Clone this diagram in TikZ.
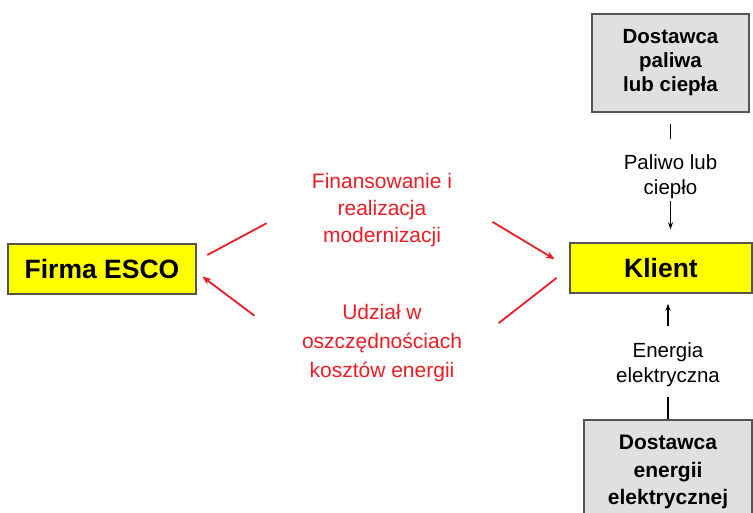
\documentclass[tikz,border=0pt]{standalone}
\usepackage{fontspec}
\setmainfont{Liberation Sans}
\usetikzlibrary{positioning, arrows.meta}
\definecolor{boxyellow}{RGB}{255,255,0}
\definecolor{boxgray}{RGB}{224,224,227}
\definecolor{flowred}{RGB}{236,28,36}
\definecolor{edgegray}{RGB}{85,85,80}

\begin{document}
\begin{tikzpicture}[x=1pt, y=-1pt, line width=1.4pt,
  party/.style = {draw=edgegray, fill=boxyellow, rectangle, inner sep=0pt,
    font=\fontsize{26.5}{30}\selectfont\bfseries},
  supplier/.style = {draw=edgegray, fill=boxgray, rectangle, inner sep=0pt, align=center},
  flowtext/.style = {inner sep=0pt, align=center, minimum width=120pt,
    font=\fontsize{20.5}{25}\selectfont},
  redtext/.style = {inner sep=0pt, align=center, text=flowred,
    minimum width=180pt, minimum height=80pt},
  redline/.style = {draw=flowred, line width=1.8pt},
  redarrow/.style = {redline, -{Stealth[length=9pt, width=7pt]}},
  blackarrow/.style = {-{Stealth[length=7pt, width=5pt]}}]
\useasboundingbox (0,0) rectangle (753,513);
\clip (0,0) rectangle (753,513);

\node[party, minimum width=188pt, minimum height=50pt] (esco) at (102,269) {Firma ESCO};
\node[party, minimum width=182pt, minimum height=50pt] (klient) at (661,268) {Klient};
\node[supplier, minimum width=157pt, minimum height=98pt,
  font=\fontsize{20.5}{24}\selectfont\bfseries] (fuel) at (670.5,63)
  {Dostawca\\paliwa\\lub ciepła};
\node[supplier, minimum width=168pt, minimum height=104pt,
  font=\fontsize{21}{27.5}\selectfont\bfseries] (power) at (668,472)
  {Dostawca\\energii\\elektrycznej};

\node[flowtext, minimum height=61pt] (fuelflow) [below=33pt of fuel] {Paliwo lub\\ciepło};
\node[flowtext, minimum height=64pt] (powerflow) [above=22pt of power] {Energia\\elektryczna};

\node[redtext, font=\fontsize{21}{27}\selectfont] (fin) at (382,210)
  {Finansowanie i\\realizacja\\modernizacji};
\node[redtext, font=\fontsize{21}{29}\selectfont] (sav) [below=52pt of fin]
  {Udział w\\oszczędnościach\\kosztów energii};

% fuel and power
\draw[shorten <=11pt, shorten >=7pt] (fuel.south) -- (fuelflow.north);
\draw[blackarrow, shorten <=-7pt, shorten >=13pt] (fuelflow.south) -- (fuelflow.south |- klient.north);
\draw[blackarrow, shorten <=6pt, shorten >=10pt] (powerflow.north) -- (powerflow.north |- klient.south);
\draw (powerflow.south) -- (powerflow.south |- power.north);

% money and savings
\draw[redline, shorten <=12pt, shorten >=28pt] (esco.5) -- (fin.west);
\draw[redarrow, shorten <=23pt, shorten >=17pt] (fin.east) -- (klient.west);
\draw[redline, shorten <=33pt, shorten >=16pt] (sav.east) -- (klient.west);
\draw[redarrow, shorten <=46pt, shorten >=7pt] (sav.west) -- (esco.-2);
\end{tikzpicture}
\end{document}
